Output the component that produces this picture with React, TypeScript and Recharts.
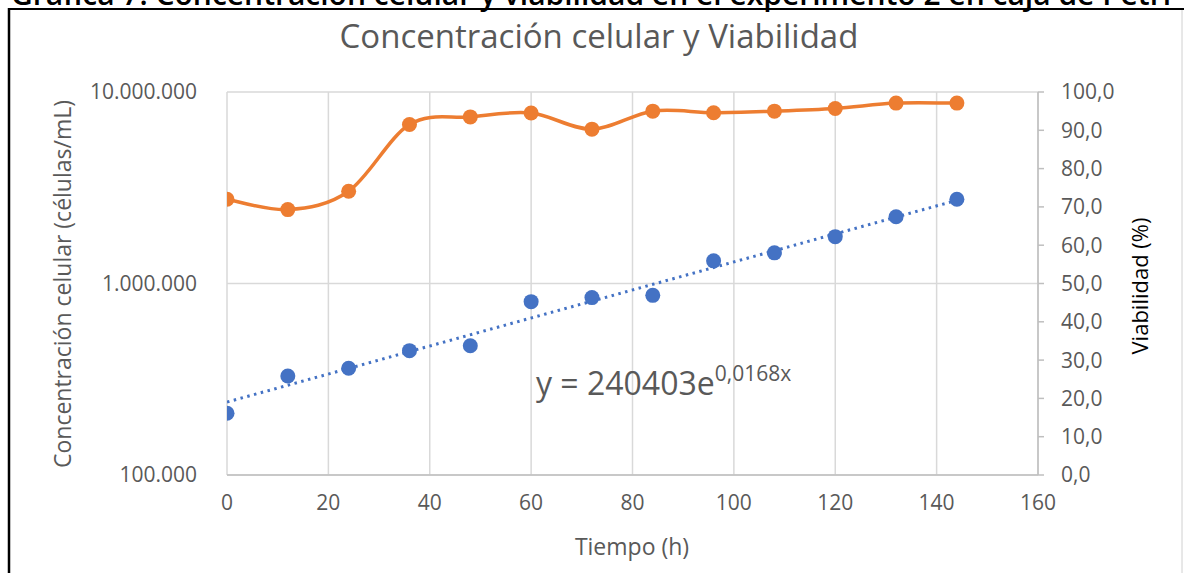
import React from 'react';
import { ComposedChart, Line, Scatter, XAxis, YAxis, CartesianGrid } from 'recharts';

const hours = [0, 12, 24, 36, 48, 60, 72, 84, 96, 108, 120, 132, 144];
const concentration = [210000, 329000, 361000, 446000, 473000, 804000, 844000, 867000, 1313000, 1446000, 1757000, 2233000, 2756000];
const viability = [72.0, 69.3, 74.1, 91.5, 93.5, 94.5, 90.3, 95.0, 94.6, 95.0, 95.7, 97.1, 97.1];
const trendHours = [0, 144];
const trendValues = [240403, 2720000];
const xTicks = [0, 20, 40, 60, 80, 100, 120, 140, 160];
const leftTicks = [100000, 1000000, 10000000];
const rightTicks = [0, 10, 20, 30, 40, 50, 60, 70, 80, 90, 100];

const concData = hours.map((t, i) => ({ t, conc: concentration[i] }));
const viaData = hours.map((t, i) => ({ t, via: viability[i] }));
const trendData = trendHours.map((t, i) => ({ t, trend: trendValues[i] }));

const FONT = "'Open Sans', sans-serif";
const GREY = '#595959';

const fmtThousands = (n: number) => String(Math.round(n)).replace(/\B(?=(\d{3})+(?!\d))/g, '.');
const fmtPct = (n: number) => n.toFixed(1).replace('.', ',');

// Catmull-Rom style smoothing similar to Excel's smoothed line
const excelSmooth = (context: any) => {
  let pts: [number, number][] = [];
  return {
    areaStart() {},
    areaEnd() {},
    lineStart() { pts = []; },
    point(x: number, y: number) { pts.push([+x, +y]); },
    lineEnd() {
      if (!pts.length) return;
      context.moveTo(pts[0][0], pts[0][1]);
      for (let i = 0; i < pts.length - 1; i++) {
        const p0 = pts[i - 1] || pts[i];
        const p1 = pts[i];
        const p2 = pts[i + 1];
        const p3 = pts[i + 2] || p2;
        const c1x = p1[0] + (p2[0] - p0[0]) / 6;
        const c1y = p1[1] + (p2[1] - p0[1]) / 6;
        const c2x = p2[0] - (p3[0] - p1[0]) / 6;
        const c2y = p2[1] - (p3[1] - p1[1]) / 6;
        context.bezierCurveTo(c1x, c1y, c2x, c2y, p2[0], p2[1]);
      }
    },
  };
};

export default function App() {
  return (
    <div style={{ position: 'absolute', left: 0, top: 0, width: 1184, height: 573, overflow: 'hidden', background: '#fff' }}>
      <ComposedChart
        width={1184}
        height={573}
        margin={{ top: 92, right: 46, bottom: 58, left: 100 }}
        style={{ fontFamily: FONT }}
      >
        <CartesianGrid xAxisId="x" yAxisId="left" stroke="#d9d9d9" strokeWidth={1.5} />
        <XAxis
          xAxisId="x"
          dataKey="t"
          type="number"
          domain={[0, 160]}
          ticks={xTicks}
          allowDataOverflow
          height={40}
          axisLine={{ stroke: '#bfbfbf', strokeWidth: 1.5 }}
          tickLine={false}
          tickSize={0}
          tickMargin={20}
          tick={{ fill: GREY, fontSize: 21, fontFamily: FONT }}
        />
        <YAxis
          yAxisId="left"
          orientation="left"
          scale="log"
          type="number"
          domain={[100000, 10000000]}
          ticks={leftTicks}
          allowDataOverflow
          width={127}
          axisLine={false}
          tickLine={false}
          tickSize={0}
          tickMargin={30}
          tickFormatter={fmtThousands}
          tick={{ fill: GREY, fontSize: 21, fontFamily: FONT }}
        />
        <YAxis
          yAxisId="right"
          orientation="right"
          type="number"
          domain={[0, 100]}
          ticks={rightTicks}
          allowDataOverflow
          width={100}
          axisLine={{ stroke: '#bfbfbf', strokeWidth: 1.5 }}
          tickLine={{ stroke: '#bfbfbf', strokeWidth: 1.5 }}
          tickSize={6}
          tickMargin={17}
          tickFormatter={fmtPct}
          tick={{ fill: GREY, fontSize: 21, fontFamily: FONT }}
        />
        <Line
          xAxisId="x"
          yAxisId="left"
          data={trendData}
          dataKey="trend"
          type="linear"
          stroke="#4472C4"
          strokeWidth={3}
          strokeDasharray="2.5 4.5"
          dot={false}
          activeDot={false}
          isAnimationActive={false}
        />
        <Scatter
          xAxisId="x"
          yAxisId="left"
          data={concData}
          dataKey="conc"
          fill="#4472C4"
          shape={(p: any) => <circle cx={p.cx} cy={p.cy} r={7.5} fill="#4472C4" />}
          isAnimationActive={false}
        />
        <Line
          xAxisId="x"
          yAxisId="right"
          data={viaData}
          dataKey="via"
          type={excelSmooth as any}
          stroke="#ED7D31"
          strokeWidth={3.5}
          dot={{ r: 7.5, fill: '#ED7D31', stroke: '#ED7D31', strokeWidth: 0 }}
          activeDot={false}
          isAnimationActive={false}
        />
      </ComposedChart>
      <svg width={1184} height={573} style={{ position: 'absolute', left: 0, top: 0, pointerEvents: 'none' }}>
        <text x={591} y={5} textAnchor="middle" fontFamily={FONT} fontSize={30} fontWeight={600} fill="#000">
          Gráfica 7. Concentración celular y viabilidad en el experimento 2 en caja de Petri
        </text>
        <line x1={9} y1={9} x2={1184} y2={9} stroke="#000" strokeWidth={2} />
        <line x1={9} y1={8} x2={9} y2={573} stroke="#000" strokeWidth={2.5} />
        <line x1={1182} y1={10} x2={1182} y2={573} stroke="#d0d0d0" strokeWidth={1} />
        <text x={599} y={48} textAnchor="middle" fontFamily={FONT} fontSize={33} fill={GREY}>
          Concentración celular y Viabilidad
        </text>
        <text x={632} y={555} textAnchor="middle" fontFamily={FONT} fontSize={23} fill={GREY}>
          Tiempo (h)
        </text>
        <text transform="translate(71,284) rotate(-90)" textAnchor="middle" fontFamily={FONT} fontSize={23} fill={GREY}>
          Concentración celular (células/mL)
        </text>
        <text transform="translate(1148,286) rotate(-90)" textAnchor="middle" fontFamily={FONT} fontSize={22} fill="#000">
          Viabilidad (%)
        </text>
        <text x={536} y={395} fontFamily={FONT} fontSize={32} fill={GREY}>
          y = 240403e<tspan fontSize={21} dy={-14}>0,0168x</tspan>
        </text>
      </svg>
    </div>
  );
}
